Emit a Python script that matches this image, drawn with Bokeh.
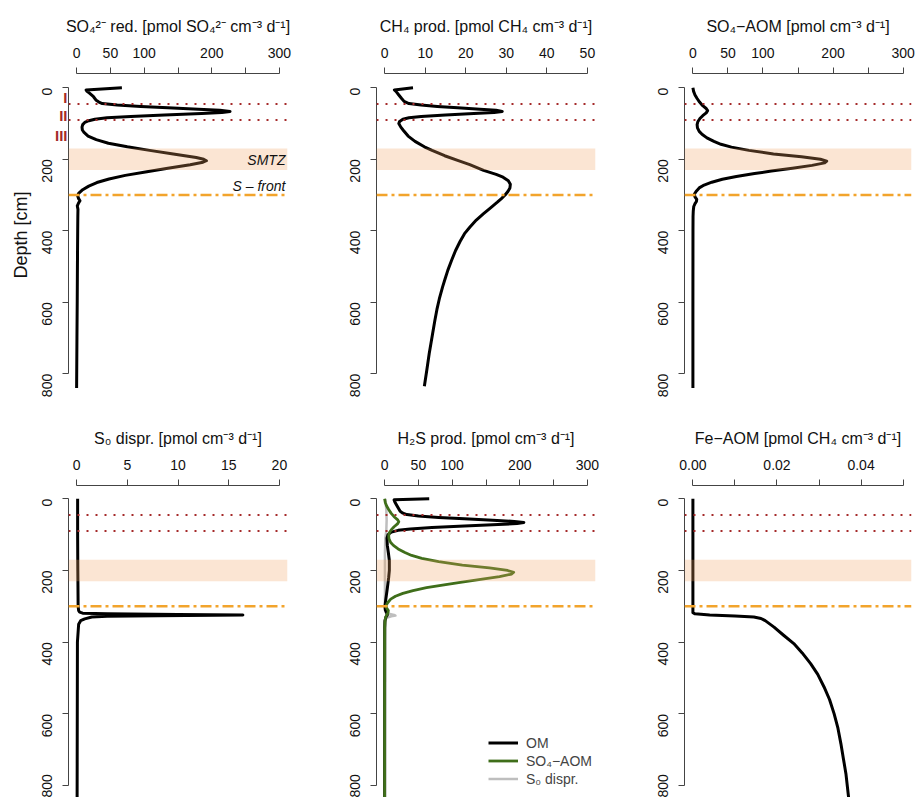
import math
from bokeh.plotting import figure
from bokeh.models import (Range1d, FixedTicker, BoxAnnotation, Span, Label, Legend, LegendItem,
                          PrintfTickFormatter, LinearAxis)
from bokeh.layouts import row, column
from bokeh.embed import file_html
from bokeh.resources import INLINE

FONT = "Liberation Sans"
BROWN = "#A52A2A"
ORANGE = "#F2A42C"
GREEN = "#3F6E1A"
GREY = "#BEBEBE"
AXC = "#444444"

# ---------------- data (depth in cm) ----------------
# SO4 reduction
d_so4red = [0, 6, 9, 15, 25, 35, 40, 44, 48, 52, 56, 60, 63, 66, 69, 72, 76, 80, 84, 88,
            92, 97, 103, 110, 118, 125, 135, 145, 155, 165, 175, 185, 195, 200, 204, 208, 215, 225, 235, 245,
            255, 265, 275, 285, 295, 302, 310, 316, 322, 330, 340, 360, 400, 500, 600, 700, 840]
v_so4red = [67, 14, 15, 19, 25, 29, 33, 38, 60, 95, 135, 180, 212, 227, 215, 185, 130, 80, 45, 27,
            18, 12, 9, 8, 8.5, 11, 17, 29, 47, 75, 108, 143, 177, 188, 192, 187, 168, 135, 104, 72,
            48, 30, 18, 9, 3, 1.5, 3, 5, 3, 1, 2, 1.8, 1.6, 1.2, 0.9, 0.5, 0]

# CH4 production
d_ch4 = [0, 6, 10, 20, 30, 38, 44, 48, 52, 56, 60, 63, 66, 69, 72, 76, 80, 84, 88, 94,
         100, 110, 120, 135, 150, 165, 175, 190, 203, 215, 231, 242, 250, 260, 270, 280, 290, 300, 310, 320,
         335, 352, 370, 390, 408, 430, 455, 483, 510, 535, 557, 590, 620, 650, 690, 743, 790, 835]
v_ch4 = [7, 2.4, 2.8, 3.5, 4.2, 4.8, 6, 9, 13, 18, 23.5, 27.5, 29, 27, 22, 15, 9, 6, 4.5, 3.7,
         3.5, 4, 4.7, 5.8, 7.5, 9.8, 11.7, 14.8, 18, 21, 24.4, 27.5, 29.2, 30.5, 31, 30.9, 30.4, 29.7, 28.8, 27.8,
         26.2, 24.4, 22.6, 21.0, 19.7, 18.6, 17.5, 16.5, 15.6, 14.9, 14.3, 13.5, 12.9, 12.4, 11.8, 11.0, 10.4, 9.8]

# SO4-AOM
d_aom = [0, 10, 20, 30, 40, 50, 58, 64, 70, 78, 86, 95, 103, 112, 122, 130, 140, 150, 158, 166,
         175, 185, 193, 200, 205, 210, 217, 225, 233, 240, 248, 256, 264, 272, 280, 290, 298, 305, 312, 318,
         324, 332, 345, 360, 400, 600, 840]
v_aom = [0, 1, 3, 6, 9.5, 14, 19, 21, 19, 14, 10, 7, 6, 6.5, 9, 13, 20, 30, 40, 55,
         80, 115, 155, 182, 191, 188, 170, 142, 112, 88, 62, 42, 27, 16, 9, 4.5, 2, 3, 5.5, 5,
         3, 1.2, 0.5, 0.2, 0.1, 0, 0]

# S0 disproportionation
d_s0 = [0, 100, 200, 300, 312, 316, 319, 321, 323, 324.5, 326, 327.5, 330, 335, 340, 350, 400, 840]
v_s0 = [0.1, 0.1, 0.12, 0.15, 0.2, 0.3, 0.6, 3, 10, 16.4, 8, 3, 1.5, 0.8, 0.4, 0.2, 0.08, 0.05]

# H2S production: OM and S0 dispr. parts
d_h2s_om = [0, 3, 8, 15, 25, 35, 40, 44, 48, 52, 56, 60, 63, 66, 69, 72, 76, 80, 84, 88,
            93, 100, 110, 130, 150, 172, 200, 220, 250, 284, 300, 310, 318, 324, 330, 340, 360, 840]
v_h2s_om = [66, 14, 15, 17, 20, 23, 27, 33, 50, 80, 118, 160, 192, 206, 196, 168, 118, 70, 38, 20,
            10, 5, 3.5, 4, 5.5, 7, 7, 6, 4, 1.5, 0.5, 1, 3, 4, 2, 0.5, 0.2, 0.1]
d_h2s_s0 = [0, 30, 60, 90, 110, 150, 300, 316, 321, 324, 326, 328, 331, 336, 345, 400, 840]
v_h2s_s0 = [1, 2.5, 3, 2.5, 1, 0.5, 0.5, 1.5, 6, 14, 16, 10, 4, 1, 0.3, 0.1, 0]

# Fe-AOM
d_fe = [0, 318, 321, 324, 327, 330, 334, 340, 358, 380, 404, 430, 460, 490, 525, 560, 600, 640, 683, 725, 767, 840]
v_fe = [0, 0, 0.0005, 0.004, 0.01, 0.0145, 0.0162, 0.0172, 0.0193, 0.0215, 0.024, 0.026, 0.028, 0.0297,
        0.0312, 0.0325, 0.0336, 0.0345, 0.0352, 0.0358, 0.0364, 0.0371]

# zone markers
zone_lines = [45, 90]
smtz = (170, 230)
sfront = 300
depth_ticks = [0, 200, 400, 600, 800]
roman_depths = [28, 77, 133]
roman_labels = ["I", "II", "III"]

titles = ["SO\u2084\u00b2\u207b red. [pmol SO\u2084\u00b2\u207b cm\u207b\u00b3 d\u207b\u00b9]",
          "CH\u2084 prod. [pmol CH\u2084 cm\u207b\u00b3 d\u207b\u00b9]",
          "SO\u2084\u2212AOM [pmol cm\u207b\u00b3 d\u207b\u00b9]",
          "S\u2080 dispr. [pmol cm\u207b\u00b3 d\u207b\u00b9]",
          "H\u2082S prod. [pmol cm\u207b\u00b3 d\u207b\u00b9]",
          "Fe\u2212AOM [pmol CH\u2084 cm\u207b\u00b3 d\u207b\u00b9]"]


def panel(title, xmax, major, minor, width, right_border, top_row, fmt=None):
    if top_row:
        h, mbt, mbb = 412, 73, 16
        yr = Range1d(863.5, -40)
    else:
        h, mbt, mbb = 385, 73, 0
        yr = Range1d(833.4, -37.1)
    pad = xmax * 0.04
    p = figure(width=width, height=h, x_range=Range1d(-pad, xmax + pad), y_range=yr,
               x_axis_location="above", output_backend="svg", toolbar_location=None,
               min_border_left=68, min_border_right=right_border,
               min_border_top=mbt, min_border_bottom=mbb)
    p.outline_line_color = None
    p.xgrid.visible = False
    p.ygrid.visible = False
    xa = p.xaxis[0]
    xa.ticker = FixedTicker(ticks=major, minor_ticks=minor)
    xa.bounds = (0, xmax)
    if fmt:
        xa.formatter = PrintfTickFormatter(format=fmt)
    xa.axis_label = title
    xa.axis_label_text_font = FONT
    xa.axis_label_text_font_size = "16px"
    xa.axis_label_text_font_style = "normal"
    xa.axis_label_text_color = "#111111"
    xa.axis_label_standoff = 10
    ya = p.yaxis[0]
    ya.ticker = FixedTicker(ticks=depth_ticks)
    ya.bounds = (0, 800)
    ya.major_label_orientation = math.pi / 2
    for ax in (xa, ya):
        ax.axis_line_color = AXC
        ax.major_tick_line_color = AXC
        ax.minor_tick_line_color = AXC
        ax.major_tick_in = 0
        ax.minor_tick_in = 0
        ax.major_label_text_font = FONT
        ax.major_label_text_font_size = "14px"
        ax.major_label_text_color = "#111111"
    xa.major_tick_out = 6
    xa.minor_tick_out = 6
    xa.major_label_standoff = 10
    ya.major_tick_out = 6
    ya.minor_tick_out = 0
    ya.major_label_standoff = 15
    return p


def zones(p):
    p.add_layout(BoxAnnotation(top=smtz[0], bottom=smtz[1], fill_color="#F0A060",
                               fill_alpha=0.28, line_color=None))
    for z in zone_lines:
        p.add_layout(Span(location=z, dimension="width", line_color=BROWN,
                          line_dash="2 7", line_width=2))
    p.add_layout(Span(location=sfront, dimension="width", line_color=ORANGE,
                      line_dash="11 4 3 4", line_width=2.5))


LW = 3

p1 = panel(titles[0], 300, [0, 50, 100, 200, 300], [150, 250], 308, 21, True)
p1.line(v_so4red, d_so4red, line_color="black", line_width=LW, line_join="round")
zones(p1)
p1.add_layout(Label(x=309, y=203, text="SMTZ", text_align="right", text_baseline="middle",
                    text_font=FONT, text_font_size="14px", text_font_style="italic",
                    text_color="#111111"))
p1.add_layout(Label(x=309, y=276, text="S \u2013 front", text_align="right", text_baseline="middle",
                    text_font=FONT, text_font_size="14px", text_font_style="italic",
                    text_color="#111111"))
ya1 = p1.yaxis[0]
ya1.axis_label = "Depth [cm]"
ya1.axis_label_text_font = FONT
ya1.axis_label_text_font_size = "18px"
ya1.axis_label_text_font_style = "normal"
ya1.axis_label_text_color = "#111111"
ya1.axis_label_standoff = 4
roman_axis = LinearAxis(ticker=FixedTicker(ticks=roman_depths),
                        major_label_overrides=dict(zip(roman_depths, roman_labels)),
                        axis_line_color=None, major_tick_line_color=None, minor_tick_line_color=None,
                        major_tick_out=0, major_tick_in=0, minor_tick_out=0, minor_tick_in=0,
                        major_label_standoff=-60, major_label_text_color=BROWN,
                        major_label_text_font=FONT, major_label_text_font_size="15px",
                        major_label_text_font_style="bold")
p1.add_layout(roman_axis, "left")

p2 = panel(titles[1], 50, [0, 10, 20, 30, 40, 50], [], 308, 21, True)
p2.line(v_ch4, d_ch4, line_color="black", line_width=LW, line_join="round")
zones(p2)

p3 = panel(titles[2], 300, [0, 50, 100, 200, 300], [150, 250], 301, 6, True)
p3.line(v_aom, d_aom, line_color="black", line_width=LW, line_join="round")
zones(p3)

p4 = panel(titles[3], 20, [0, 5, 10, 15, 20], [], 308, 21, False)
p4.line(v_s0, d_s0, line_color="black", line_width=LW, line_join="round")
zones(p4)

p5 = panel(titles[4], 300, [0, 50, 100, 200, 300], [150, 250], 308, 21, False)
r_grey = p5.line(v_h2s_s0, d_h2s_s0, line_color=GREY, line_width=2.5, line_join="round")
r_om = p5.line(v_h2s_om, d_h2s_om, line_color="black", line_width=LW, line_join="round")
r_aom = p5.line(v_aom, d_aom, line_color=GREEN, line_width=2.8, line_join="round")
zones(p5)
leg = Legend(items=[LegendItem(label="OM", renderers=[r_om]),
                    LegendItem(label="SO\u2084\u2212AOM", renderers=[r_aom]),
                    LegendItem(label="S\u2080 dispr.", renderers=[r_grey])],
             location=(112, 10), orientation="vertical", padding=0, margin=0, spacing=1,
             glyph_width=30, glyph_height=17, label_height=17, label_standoff=8,
             label_text_font=FONT, label_text_font_size="14px",
             border_line_color=None, background_fill_alpha=0)
p5.add_layout(leg)

p6 = panel(titles[5], 0.05, [0, 0.02, 0.04], [0.01, 0.03, 0.05], 301, 6, False, fmt="%.2f")
p6.line(v_fe, d_fe, line_color="black", line_width=LW, line_join="round")
zones(p6)

layout = column(row(p1, p2, p3), row(p4, p5, p6))
open("out.html", "w").write(file_html(layout, INLINE))
